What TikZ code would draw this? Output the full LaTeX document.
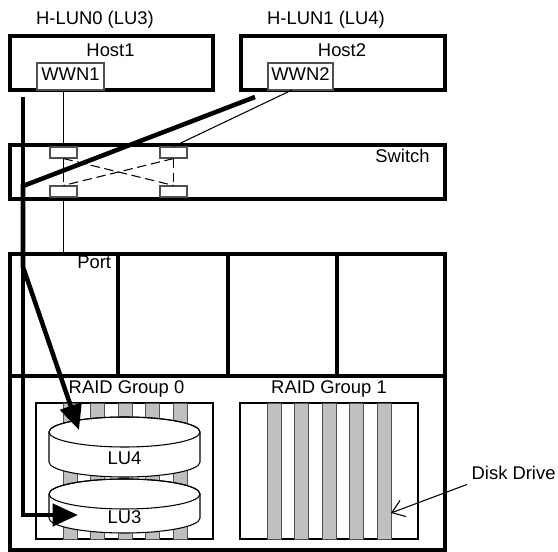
\documentclass[tikz,border=0pt]{standalone}
\usepackage{fontspec}
\setmainfont{Liberation Sans}
\usepackage{tikz}
\usetikzlibrary{arrows.meta,positioning,fit}
\definecolor{Drive}{HTML}{C0C0C0}
\definecolor{Edge}{HTML}{505050}

\begin{document}
\begin{tikzpicture}[x=0.75pt,y=-0.75pt,
    font=\fontsize{13.8}{15}\selectfont,
    frame/.style={draw,line width=3pt,inner sep=0pt},
    thinbox/.style={draw=Edge,line width=0.8pt,inner sep=0pt,fill=white},
    link/.style={line width=0.8pt},
    cross/.style={line width=0.8pt,dash pattern=on 7pt off 3.5pt},
    route/.style={line width=3.4pt,-{Triangle[length=19pt,width=16.5pt]}},
    drive/.style={draw=Edge,fill=Drive,line width=0.7pt,inner sep=0pt,minimum width=10.5pt,minimum height=102pt}]
  \useasboundingbox (0,0) rectangle (558,552);

  % hosts
  \node[frame,fit={(10,36) (213,90)}] (host1) {};
  \node[frame,fit={(241,36) (445,90)}] (host2) {};
  \node (hlun0) at (95,20) {H-LUN0 (LU3)};
  \node (hlun1) at (326,20) {H-LUN1 (LU4)};
  \node (h1name) at (110.5,50) {Host1};
  \node (h2name) at (342,50) {Host2};
  \node[thinbox,fit={(37,63) (104,90)}] (wwn1) {};
  \node[thinbox,fit={(268,63) (333,90)}] (wwn2) {};
  \node at ([yshift=2pt]wwn1.center) {WWN1};
  \node at ([yshift=2pt]wwn2.center) {WWN2};

  % switch
  \node[frame,fit={(10,145) (445,199)}] (switch) {};
  \node (swname) at (402.5,156) {Switch};
  \foreach \x/\y/\n in {50/147/1,160/147/2,50/186/3,160/186/4}
    \node[thinbox,fit={(\x,\y) (\x+27,\y+11)}] (swp\n) {};
  \draw[cross] (swp1.south) -- (swp3.north);
  \draw[cross] (swp2.south) -- (swp4.north);
  \draw[cross] (swp1.south) -- (swp4.north);
  \draw[cross] (swp2.south) -- (swp3.north);

  % ports
  \foreach \a/\b [count=\i] in {10/118,118/228,228/337,337/445}
    \node[frame,fit={(\a,254) (\b,376)}] (port\i) {};
  \node[anchor=north east,inner sep=0pt] at ([xshift=-6.5pt,yshift=-3pt]port1.north east) {Port};

  \coordinate (w2out) at (292,90);
  \draw[link] (swp1.north |- wwn1.south) -- (swp1.north);
  \draw[link] (w2out) -- (swp2.north);
  \draw[link] (swp3.south) -- (swp3.south |- port1.north);

  % disk array
  \node[frame,fit={(10,376) (445,550)}] (array) {};
  \node[thinbox,draw=black,fit={(36,403) (213,539)}] (raid0) {};
  \node[thinbox,draw=black,fit={(240,403) (418,539)}] (raid1) {};
  \node[above=0pt of raid0,xshift=1.5pt] (rg0name) {RAID Group 0};
  \node[above=0pt of raid1] (rg1name) {RAID Group 1};
  \foreach \g/\left in {0/36,1/240}
    \foreach \k in {0,...,4}
      \node[drive] (d\g\k) at ({\left+34.5+27.4*\k},471) {};

  \foreach \tp/\bt/\lab/\nm in {432/462/LU4/lu4,494/518/LU3/lu3}{
    \filldraw[fill=white,line width=0.8pt] (49,\tp) -- (49,\bt)
      arc[start angle=180,end angle=0,x radius=75.5,y radius=15] -- (200,\tp)
      arc[start angle=0,end angle=-180,x radius=75.5,y radius=15] -- cycle;
    \draw[line width=0.8pt] (124.5,\tp) ellipse[x radius=75.5,y radius=15];
    \node (\nm) at (124.5,{(\tp+\bt)/2+11}) {\lab};
  }

  \node[anchor=west] (ddname) at (467,473) {Disk Drive};
  \coordinate (ddtip) at (391,513);
  \draw[line width=0.8pt,-{Straight Barb[length=9pt,width=13pt]}] (ddname.south west) -- (ddtip);

  % access routes
  \coordinate (h1from) at (23,97);
  \coordinate (h1turn) at (23,515);
  \coordinate (lu3in) at (78,515);
  \coordinate (h2from) at (255,97);
  \coordinate (h2bend) at (23,186);
  \coordinate (h2drop) at (23,267);
  \coordinate (lu4in) at (79,430);
  \draw[route] (h1from) -- (h1turn) -- (lu3in);
  \draw[route] (h2from) -- (h2bend) -- (h2drop) -- (lu4in);
\end{tikzpicture}
\end{document}
